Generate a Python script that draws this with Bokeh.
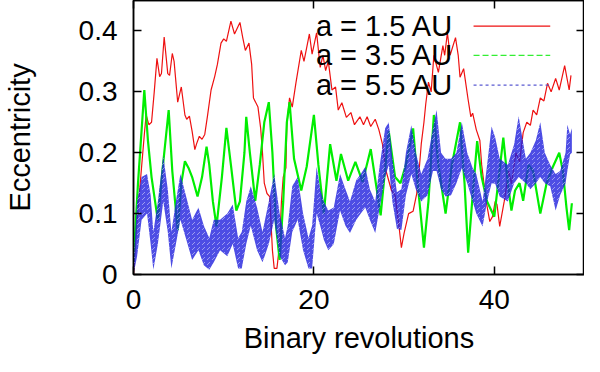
from bokeh.plotting import figure
from bokeh.models import Range1d, FixedTicker, LinearAxis, Label, Arrow
from bokeh.embed import file_html
from bokeh.resources import INLINE

# ---- data ----
red_x = [0.0, 0.3, 0.8, 1.2, 1.4, 1.7, 2.0, 2.3, 2.6, 2.9, 3.1, 3.4, 3.8, 4.0, 4.3, 4.5, 4.9, 5.3, 5.7,
         5.9, 6.2, 6.5, 6.8, 7.0, 7.3, 7.6, 7.9, 8.2, 8.6, 9.0, 9.3, 9.7, 10.0, 10.3, 10.8, 11.2, 11.8,
         12.1, 12.4, 12.8, 13.1, 13.3, 13.8, 14.1, 14.3, 14.5, 14.8, 15.1, 15.4, 15.6, 15.9, 16.2, 16.4,
         16.6, 16.9, 17.0, 17.3, 17.6, 18.0, 18.6, 18.9, 19.5, 19.8, 20.3, 20.7, 21.0, 21.3, 21.6, 22.0,
         22.4, 22.7, 23.1, 23.6, 24.1, 24.5, 25.1, 25.5, 25.9, 26.3, 26.8, 27.2, 27.6, 28.0, 28.6, 29.0,
         29.4, 29.7, 30.0, 30.5, 31.0, 31.4, 31.7, 31.9, 32.2, 32.4, 32.7, 33.0, 33.3, 33.8, 34.3, 34.5,
         34.8, 35.1, 35.7, 36.0, 36.2, 36.6, 37.1, 37.4, 37.6, 38.0, 38.4, 38.6, 39.1, 39.5, 39.8, 40.1,
         40.3, 40.6, 41.1, 41.6, 41.9, 42.4, 42.8, 43.2, 43.6, 44.0, 44.3, 44.7, 45.1, 45.5, 45.9, 46.3,
         46.8, 47.2, 47.8, 48.3, 48.5]
red_y = [0.0, 0.07, 0.16, 0.23, 0.262, 0.246, 0.25, 0.30, 0.355, 0.325, 0.33, 0.39, 0.33, 0.327, 0.363,
         0.35, 0.283, 0.308, 0.262, 0.255, 0.26, 0.235, 0.205, 0.215, 0.227, 0.222, 0.23, 0.26, 0.303,
         0.325, 0.345, 0.38, 0.387, 0.383, 0.416, 0.395, 0.414, 0.39, 0.368, 0.38, 0.345, 0.29, 0.275,
         0.24, 0.2, 0.15, 0.133, 0.128, 0.04, 0.01, 0.01, 0.05, 0.12, 0.16, 0.175, 0.245, 0.29, 0.275,
         0.314, 0.368, 0.35, 0.395, 0.362, 0.397, 0.34, 0.36, 0.335, 0.35, 0.303, 0.308, 0.27, 0.282,
         0.258, 0.266, 0.246, 0.259, 0.246, 0.259, 0.243, 0.255, 0.238, 0.214, 0.17, 0.138, 0.13, 0.084,
         0.044, 0.068, 0.1, 0.104, 0.133, 0.177, 0.214, 0.25, 0.28, 0.316, 0.3, 0.36, 0.332, 0.376, 0.36,
         0.397, 0.36, 0.389, 0.36, 0.324, 0.338, 0.287, 0.259, 0.265, 0.238, 0.22, 0.18, 0.12, 0.087,
         0.095, 0.12, 0.115, 0.079, 0.12, 0.17, 0.149, 0.2, 0.185, 0.233, 0.25, 0.245, 0.27, 0.262, 0.29,
         0.285, 0.314, 0.3, 0.322, 0.303, 0.343, 0.303, 0.327]

green_x = [0.0, 0.5, 1.2, 1.6, 2.0, 2.7, 3.2, 3.9, 4.3, 4.9, 5.3, 5.7, 6.1, 6.5, 7.1, 7.6, 8.1, 8.4, 8.8,
           9.2, 9.8, 10.3, 10.8, 11.4, 11.8, 12.3, 12.5, 12.9, 13.5, 14.0, 14.5, 15.0, 15.4, 15.8, 16.2,
           16.6, 17.0, 17.3, 17.8, 18.6, 19.2, 20.0, 20.5, 21.1, 21.8, 22.5, 23.0, 23.8, 24.6, 25.4, 26.3,
           27.4, 28.3, 29.0, 29.6, 30.2, 31.0, 31.5, 32.2, 32.7, 33.3, 33.8, 34.6, 35.3, 36.2, 36.7, 37.1,
           37.6, 38.1, 38.6, 39.2, 40.0, 40.5, 41.0, 41.5, 41.9, 42.3, 42.8, 43.2, 43.8, 44.3, 45.1, 45.8,
           46.5, 47.2, 47.6, 48.0, 48.3, 48.6]
green_y = [0.02, 0.15, 0.303, 0.22, 0.16, 0.089, 0.17, 0.27, 0.17, 0.073, 0.15, 0.186, 0.175, 0.16,
           0.128, 0.16, 0.21, 0.18, 0.12, 0.079, 0.16, 0.241, 0.18, 0.105, 0.12, 0.2, 0.259, 0.2, 0.121,
           0.18, 0.25, 0.283, 0.2, 0.08, 0.024, 0.12, 0.25, 0.283, 0.19, 0.138, 0.177, 0.262, 0.18, 0.1,
           0.214, 0.154, 0.198, 0.154, 0.185, 0.152, 0.206, 0.097, 0.235, 0.16, 0.15, 0.18, 0.24, 0.15,
           0.044, 0.12, 0.262, 0.18, 0.1, 0.18, 0.25, 0.15, 0.036, 0.13, 0.219, 0.16, 0.12, 0.095, 0.16,
           0.225, 0.15, 0.105, 0.138, 0.15, 0.121, 0.18, 0.17, 0.1, 0.15, 0.177, 0.2, 0.17, 0.11, 0.073,
           0.117]

blue_x = [0.0, 0.4, 0.9, 1.5, 1.9, 2.2, 2.7, 3.3, 3.8, 4.2, 4.7, 5.2, 5.8, 6.5, 7.2, 7.8, 8.4, 8.9, 9.6,
          10.4, 11.0, 11.6, 12.0, 12.5, 13.0, 13.7, 14.3, 15.0, 15.6, 16.2, 16.8, 17.1, 17.6, 18.2, 18.8,
          19.4, 19.8, 20.3, 20.7, 21.1, 21.6, 22.2, 22.9, 23.5, 24.0, 24.7, 25.2, 25.7, 26.2, 26.8, 27.3,
          27.9, 28.3, 28.7, 29.2, 29.7, 30.2, 30.8, 31.3, 31.9, 32.6, 33.2, 33.6, 34.1, 34.6, 35.2, 35.8,
          36.4, 37.0, 37.6, 38.0, 38.7, 39.2, 39.7, 40.1, 40.6, 41.5, 42.2, 42.7, 43.5, 44.0, 44.6, 45.1,
          45.6, 46.2, 46.8, 47.3, 47.9, 48.1, 48.4, 48.6]
blue_upper = [0.02, 0.12, 0.16, 0.165, 0.13, 0.07, 0.12, 0.195, 0.14, 0.07, 0.12, 0.165, 0.13, 0.09,
              0.11, 0.08, 0.06, 0.09, 0.09, 0.1, 0.115, 0.06, 0.07, 0.12, 0.145, 0.11, 0.07, 0.12, 0.165,
              0.1, 0.06, 0.08, 0.145, 0.16, 0.1, 0.06, 0.08, 0.177, 0.14, 0.12, 0.105, 0.11, 0.165, 0.14,
              0.12, 0.155, 0.165, 0.177, 0.14, 0.12, 0.18, 0.24, 0.25, 0.19, 0.135, 0.14, 0.2, 0.245, 0.2,
              0.165, 0.19, 0.24, 0.27, 0.2, 0.19, 0.19, 0.2, 0.25, 0.2, 0.175, 0.165, 0.12, 0.18, 0.243,
              0.225, 0.19, 0.18, 0.214, 0.26, 0.19, 0.2, 0.22, 0.25, 0.2, 0.18, 0.165, 0.17, 0.2, 0.246,
              0.23, 0.24]
blue_lower = [0.0, 0.03, 0.09, 0.1, 0.05, 0.008, 0.05, 0.12, 0.07, 0.01, 0.05, 0.09, 0.06, 0.024, 0.04,
              0.015, 0.008, 0.02, 0.04, 0.03, 0.05, 0.01, 0.01, 0.05, 0.08, 0.04, 0.02, 0.05, 0.09, 0.03,
              0.015, 0.02, 0.07, 0.09, 0.04, 0.01, 0.01, 0.1, 0.08, 0.057, 0.04, 0.05, 0.105, 0.08, 0.068,
              0.09, 0.1, 0.11, 0.09, 0.068, 0.11, 0.16, 0.18, 0.12, 0.075, 0.073, 0.13, 0.165, 0.14, 0.12,
              0.13, 0.17, 0.17, 0.14, 0.128, 0.13, 0.15, 0.175, 0.15, 0.12, 0.1, 0.079, 0.12, 0.15, 0.149,
              0.128, 0.12, 0.15, 0.16, 0.15, 0.14, 0.15, 0.16, 0.15, 0.145, 0.105, 0.13, 0.15, 0.17, 0.197,
              0.2]

x_ticks = [0, 20, 40]
y_ticks = [0, 0.1, 0.2, 0.3, 0.4]
y_tick_labels = ["0", "0.1", "0.2", "0.3", "0.4"]
series_labels = ["a = 1.5 AU", "a = 3.5 AU", "a = 5.5 AU"]
x_title = "Binary revolutions"
y_title = "Eccentricity"

FONT = "Liberation Sans"
RED = "#ee1111"
GREEN = "#00ee00"
BLUE = "#2020dd"

p = figure(width=584, height=356, output_backend="svg", toolbar_location=None,
           x_range=Range1d(0, 50), y_range=Range1d(0, 0.45),
           min_border_left=127, min_border_right=0, min_border_top=0, min_border_bottom=82)
p.grid.visible = False
p.outline_line_color = "black"
p.outline_line_width = 1.5
p.background_fill_color = "white"
p.border_fill_color = "white"


def style_axis(ax, ticks, show_labels=True):
    ax.ticker = FixedTicker(ticks=ticks)
    ax.major_tick_in = 8
    ax.major_tick_out = 0
    ax.minor_tick_in = 0
    ax.minor_tick_out = 0
    ax.major_tick_line_color = "black"
    ax.major_tick_line_width = 1.5
    ax.axis_line_color = "black"
    ax.axis_line_width = 1.5
    if show_labels:
        ax.major_label_text_font = FONT
        ax.major_label_text_font_size = "28px"
        ax.major_label_text_color = "black"
    else:
        ax.major_label_overrides = {t: "" for t in ticks}
        ax.major_label_text_font_size = "0px"
        ax.major_label_standoff = 0
        ax.axis_label_standoff = 0


xa = p.xaxis[0]
style_axis(xa, x_ticks)
xa.major_label_standoff = 15
xa.axis_label = x_title
xa.axis_label_text_font = FONT
xa.axis_label_text_font_size = "29px"
xa.axis_label_text_font_style = "normal"
xa.axis_label_text_color = "black"
xa.axis_label_standoff = 10

ya = p.yaxis[0]
style_axis(ya, y_ticks)
ya.major_label_overrides = {t: l for t, l in zip(y_ticks, y_tick_labels)}
ya.major_label_standoff = 16
ya.axis_label = y_title
ya.axis_label_text_font = FONT
ya.axis_label_text_font_size = "29px"
ya.axis_label_text_font_style = "normal"
ya.axis_label_text_color = "black"
ya.axis_label_standoff = 40

top = LinearAxis()
style_axis(top, x_ticks, show_labels=False)
p.add_layout(top, "above")
right = LinearAxis()
style_axis(right, y_ticks, show_labels=False)
p.add_layout(right, "right")

# data
p.line(red_x, red_y, line_color=RED, line_width=1.2)
p.line(green_x, green_y, line_color=GREEN, line_width=2.2)
p.varea(x=blue_x, y1=blue_lower, y2=blue_upper, fill_color=BLUE, fill_alpha=0.8,
        hatch_pattern="right_diagonal_dash", hatch_color="white", hatch_alpha=0.45, hatch_scale=5)

# legend: text on the left, line sample on the right
key_styles = [dict(line_color=RED, line_width=1.2),
              dict(line_color="#33ee33", line_width=1.2, line_dash="6 3"),
              dict(line_color="#5a5ad2", line_width=1.2, line_dash="3 3")]
for lab, yy, st in zip(series_labels, [0.408, 0.36, 0.311], key_styles):
    p.add_layout(Label(x=35.5, y=yy, text=lab, text_align="right", text_baseline="middle",
                       text_font=FONT, text_font_size="29px", text_color="black"))
    p.add_layout(Arrow(x_start=37.7, y_start=yy, x_end=46.2, y_end=yy, end=None, **st))

open("out.html", "w").write(file_html(p, INLINE))
